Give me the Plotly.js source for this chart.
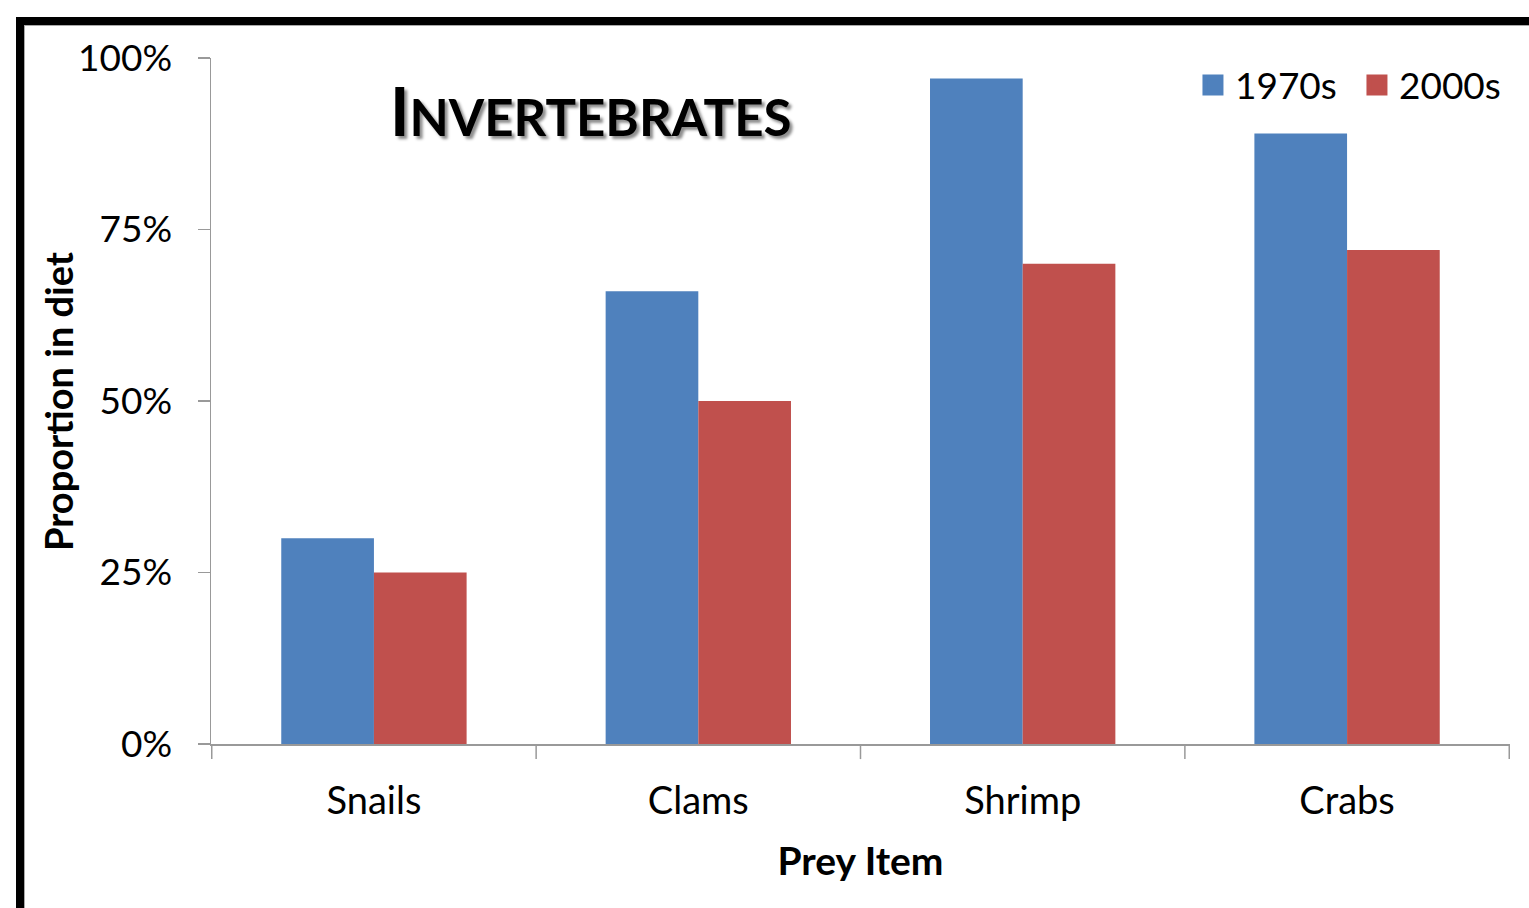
<!DOCTYPE html>
<html>
<head>
<meta charset="utf-8">
<script src="https://cdn.plot.ly/plotly-3.0.1.min.js"></script>
<style>
  html, body { margin: 0; padding: 0; background: #fff; overflow: hidden; }
  #chart { width: 1529px; height: 908px; }
  #frame { position: absolute; left: 16px; top: 17px; width: 1600px; height: 1000px;
           border-left: 8px solid #000; border-top: 8px solid #000; pointer-events: none; }
  #frame2 { position: absolute; left: 24px; top: 25px; width: 1600px; height: 1000px;
           border-left: 1px solid #aaa; border-top: 1px solid #aaa; pointer-events: none; }
</style>
</head>
<body>
<div id="chart"></div>
<div id="frame"></div>
<div id="frame2"></div>
<script>
const categories = ["Snails", "Clams", "Shrimp", "Crabs"];
const seriesNames = ["1970s", "2000s"];
const series1970s = [0.30, 0.66, 0.97, 0.89];
const series2000s = [0.25, 0.50, 0.70, 0.72];
const tickValues = [0, 0.25, 0.5, 0.75, 1];
const tickLabels = ["0%", "25%", "50%", "75%", "100%"];

const FONT = "Lato, 'Open Sans', sans-serif";
const BLUE = "#4F81BD", RED = "#C0504D";

const data = [
  { type: "bar", name: seriesNames[0], x: categories, y: series1970s,
    marker: { color: BLUE }, showlegend: false },
  { type: "bar", name: seriesNames[1], x: categories, y: series2000s,
    marker: { color: RED }, showlegend: false },
  { type: "scatter", mode: "markers", name: seriesNames[0], x: [categories[0]], y: [null],
    marker: { symbol: "square", color: BLUE, size: 16, line: { color: BLUE, width: 5 } }, showlegend: true },
  { type: "scatter", mode: "markers", name: seriesNames[1], x: [categories[0]], y: [null],
    marker: { symbol: "square", color: RED, size: 16, line: { color: RED, width: 5 } }, showlegend: true }
];

const layout = {
  width: 1529, height: 908,
  margin: { l: 211, r: 19, t: 58, b: 164, autoexpand: false },
  paper_bgcolor: "#fff", plot_bgcolor: "#fff",
  barmode: "group", bargap: 0.4286, bargroupgap: 0,
  font: { family: FONT, color: "#000" },
  showlegend: true,
  legend: { orientation: "h", x: 0.7544, xanchor: "left", y: 0.96, yanchor: "middle",
            font: { family: FONT, size: 37, color: "#000" }, itemwidth: 34,
            entrywidth: 115, entrywidthmode: "pixels",
            traceorder: "normal", bgcolor: "rgba(0,0,0,0)", itemsizing: "trace" },
  xaxis: {
    type: "category", showgrid: false, zeroline: false,
    showline: true, linecolor: "#999", linewidth: 1.5,
    ticks: "outside", ticklen: 0, ticklabelstandoff: 23,
    tickfont: { family: FONT, size: 38, color: "#000" },
    title: { text: "<b>Prey Item</b>", font: { family: FONT, size: 39, color: "#000" }, standoff: 26 }
  },
  yaxis: {
    range: [0, 1], tickvals: tickValues, ticktext: tickLabels,
    showgrid: false, zeroline: false,
    showline: true, linecolor: "#999", linewidth: 1.5,
    ticks: "outside", ticklen: 12, tickcolor: "#999", tickwidth: 1.5,
    tickfont: { family: FONT, size: 37, color: "#000" }, ticklabelstandoff: 18
  },
  shapes: [0, 1, 2, 3, 4].map(i => ({
    type: "line", xref: "x", yref: "paper", x0: i - 0.5, x1: i - 0.5, y0: 0, y1: -0.022,
    line: { color: "#999", width: 1.5 }
  })),
  annotations: [{
    xref: "paper", yref: "paper", x: 0.136, y: 0.924, xanchor: "left", yanchor: "middle",
    showarrow: false,
    text: "<b>I<span style='font-size:51px'>NVERTEBRATES</span></b>",
    font: { family: FONT, size: 66, color: "#000", shadow: "3px 3px 3px rgba(0,0,0,0.45)" }
  }, {
    xref: "paper", yref: "paper", x: -0.1178, y: 0.5, xanchor: "center", yanchor: "middle",
    showarrow: false, textangle: -90,
    text: "<b>Proportion in diet</b>",
    font: { family: FONT, size: 38, color: "#000" }
  }]
};

Plotly.newPlot("chart", data, layout, { displayModeBar: false, staticPlot: true });
</script>
</body>
</html>
